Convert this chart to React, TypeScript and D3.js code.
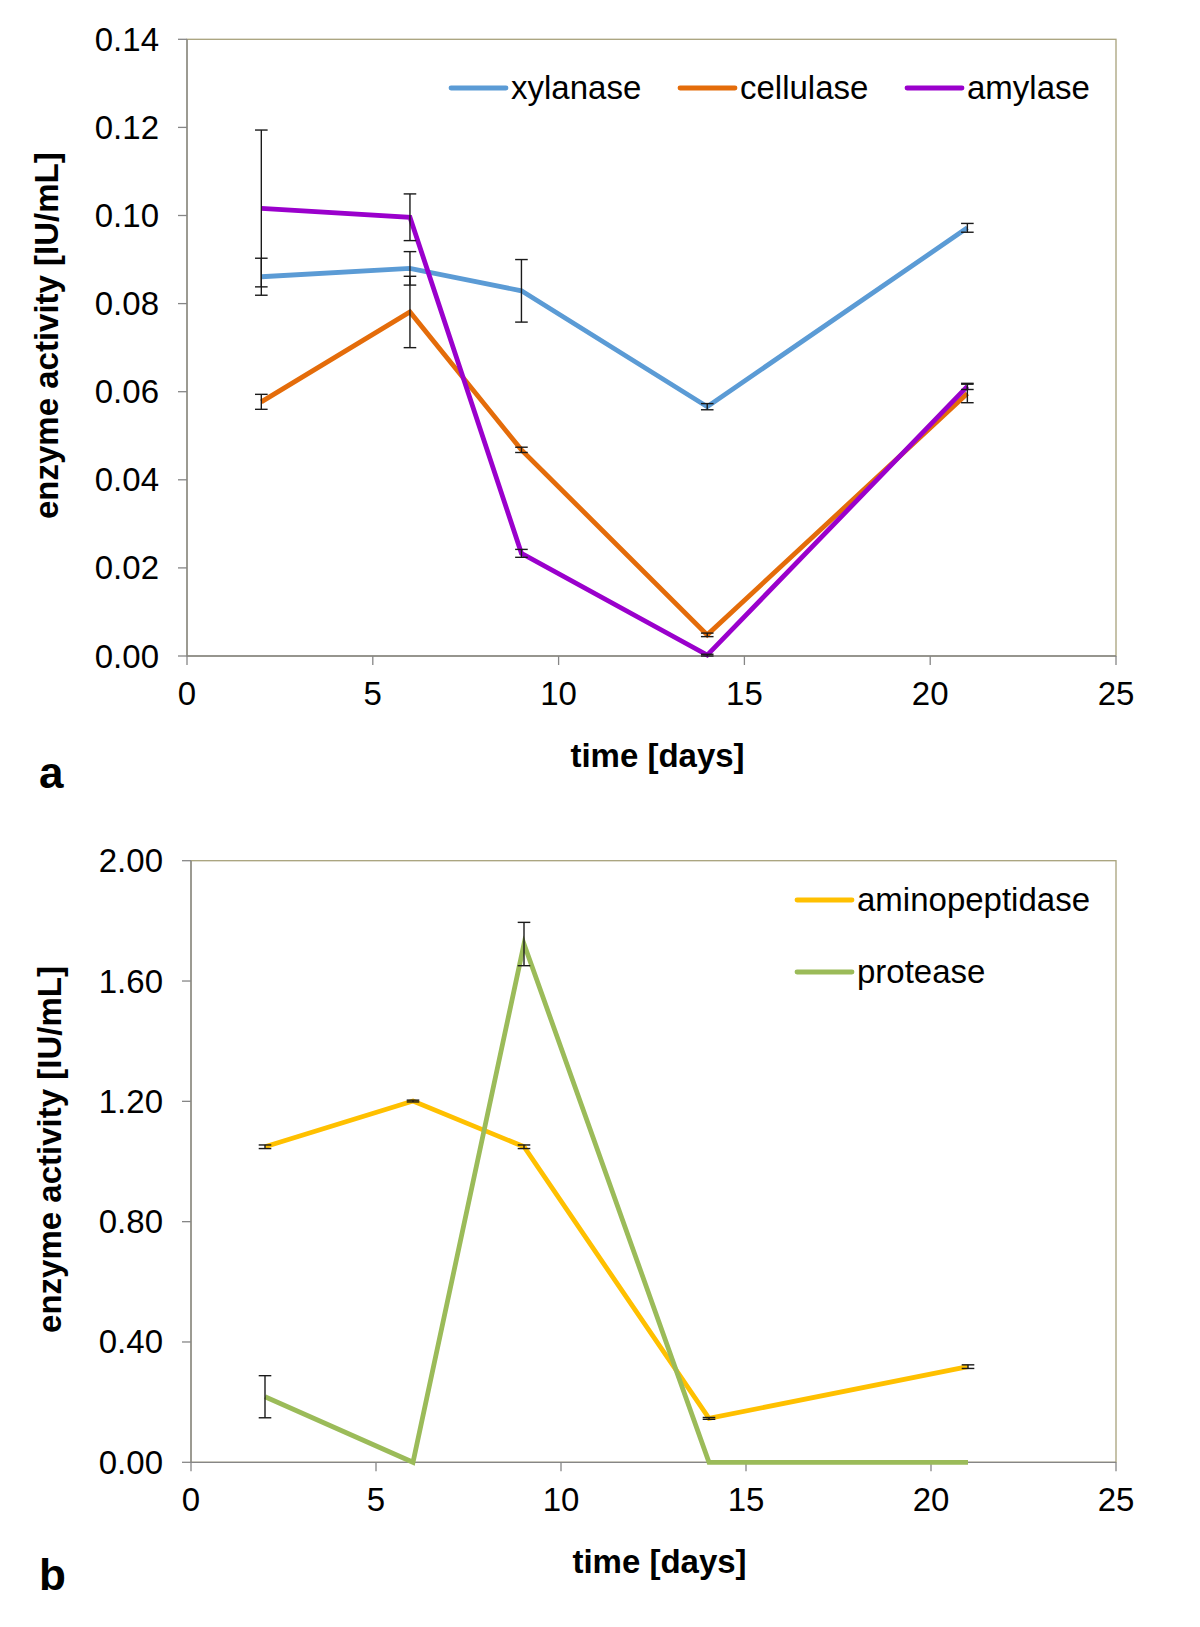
import React from "react";
import * as d3 from "d3";

const days = [2, 6, 9, 14, 21];

const xylanase = [0.0861, 0.088, 0.0829, 0.0566, 0.0972];
const xylanaseErr = [0.0042, 0.0038, 0.0071, 0.0007, 0.001];
const cellulase = [0.0577, 0.0781, 0.0468, 0.0048, 0.0596];
const cellulaseErr = [0.0017, 0.0081, 0.0006, 0.0004, 0.0021];
const amylase = [0.1016, 0.0996, 0.0233, 0.0002, 0.0612];
const amylaseErr = [0.0178, 0.0053, 0.0009, 0.0002, 0.0007];

const aminopeptidase = [1.049, 1.201, 1.049, 0.146, 0.318];
const aminopeptidaseErr = [0.006, 0.003, 0.006, 0.003, 0.006];
const protease = [0.218, 0.0, 1.723, 0.0, 0.0];
const proteaseErr = [0.07, 0.0, 0.072, 0.0, 0.0];

const xTicks = [0, 5, 10, 15, 20, 25];
const yTicksA = [0, 0.02, 0.04, 0.06, 0.08, 0.1, 0.12, 0.14];
const yTicksB = [0, 0.4, 0.8, 1.2, 1.6, 2.0];

const FONT = "'Liberation Sans', Arial, sans-serif";
const FS = 33;

type Series = { name: string; values: number[]; errs: number[]; color: string };

const seriesA: Series[] = [
  { name: "xylanase", values: xylanase, errs: xylanaseErr, color: "#5b9bd5" },
  { name: "cellulase", values: cellulase, errs: cellulaseErr, color: "#e46c0a" },
  { name: "amylase", values: amylase, errs: amylaseErr, color: "#9a00cc" },
];
const seriesB: Series[] = [
  { name: "aminopeptidase", values: aminopeptidase, errs: aminopeptidaseErr, color: "#ffc000" },
  { name: "protease", values: protease, errs: proteaseErr, color: "#9bbb59" },
];

type PanelProps = {
  left: number;
  right: number;
  top: number;
  bottom: number;
  yMax: number;
  yTicks: number[];
  series: Series[];
  legend: { x: number; y: number }[];
  yTitleX: number;
  letter: string;
  letterY: number;
};

function Panel(p: PanelProps) {
  const x = d3.scaleLinear().domain([0, 25]).range([p.left, p.right]);
  const y = d3.scaleLinear().domain([0, p.yMax]).range([p.bottom, p.top]);
  const line = d3
    .line<number>()
    .x((_, i) => x(days[i]))
    .y((v) => y(v));
  const axisColor = "#868686";
  const frameColor = "#a8a27c";
  const capW = 6.3;
  return (
    <g>
      <rect
        x={p.left}
        y={p.top}
        width={p.right - p.left}
        height={p.bottom - p.top}
        fill="none"
        stroke={frameColor}
        strokeWidth={1.3}
      />
      <line x1={p.left} x2={p.left} y1={p.top} y2={p.bottom} stroke={axisColor} strokeWidth={1.3} />
      <line x1={p.left} x2={p.right} y1={p.bottom} y2={p.bottom} stroke={axisColor} strokeWidth={1.3} />
      {p.yTicks.map((t) => (
        <g key={"y" + t}>
          <line x1={p.left - 9} x2={p.left} y1={y(t)} y2={y(t)} stroke={axisColor} strokeWidth={1.3} />
          <text
            x={p.left - 28}
            y={y(t) + 11.5}
            textAnchor="end"
            fontFamily={FONT}
            fontSize={FS}
            fill="#000"
          >
            {t.toFixed(2)}
          </text>
        </g>
      ))}
      {xTicks.map((t) => (
        <g key={"x" + t}>
          <line x1={x(t)} x2={x(t)} y1={p.bottom} y2={p.bottom + 9} stroke={axisColor} strokeWidth={1.3} />
          <text
            x={x(t)}
            y={p.bottom + 49}
            textAnchor="middle"
            fontFamily={FONT}
            fontSize={FS}
            fill="#000"
          >
            {t}
          </text>
        </g>
      ))}
      {p.series.map((s) => (
        <path
          key={s.name}
          d={line(s.values) || ""}
          fill="none"
          stroke={s.color}
          strokeWidth={4.8}
          strokeLinejoin="miter"
        />
      ))}
      {p.series.map((s) =>
        s.values.map((v, i) =>
          s.errs[i] > 0 ? (
            <g key={s.name + "e" + i} stroke="#1a1a1a" strokeWidth={1.4}>
              <line x1={x(days[i])} x2={x(days[i])} y1={y(v - s.errs[i])} y2={y(v + s.errs[i])} />
              <line
                x1={x(days[i]) - capW}
                x2={x(days[i]) + capW}
                y1={y(v + s.errs[i])}
                y2={y(v + s.errs[i])}
              />
              <line
                x1={x(days[i]) - capW}
                x2={x(days[i]) + capW}
                y1={y(v - s.errs[i])}
                y2={y(v - s.errs[i])}
              />
            </g>
          ) : null
        )
      )}
      {p.series.map((s, i) => {
        const l = p.legend[i];
        return (
          <g key={"leg" + s.name}>
            <line x1={l.x} x2={l.x + 55} y1={l.y} y2={l.y} stroke={s.color} strokeWidth={4.8} strokeLinecap="round" />
            <text x={l.x + 60} y={l.y + 10.5} fontFamily={FONT} fontSize={FS} fill="#000">
              {s.name}
            </text>
          </g>
        );
      })}
      <text
        x={(p.left + p.right) / 2 + 6}
        y={p.bottom + 111}
        textAnchor="middle"
        fontFamily={FONT}
        fontSize={FS}
        fontWeight="bold"
        fill="#000"
      >
        time [days]
      </text>
      <text
        transform={`translate(${p.yTitleX},${(p.top + p.bottom) / 2 - 12}) rotate(-90)`}
        textAnchor="middle"
        fontFamily={FONT}
        fontSize={FS}
        fontWeight="bold"
        fill="#000"
      >
        enzyme activity [IU/mL]
      </text>
      <text x={39} y={p.letterY} fontFamily={FONT} fontSize={44} fontWeight="bold" fill="#000">
        {p.letter}
      </text>
    </g>
  );
}

export default function App() {
  return (
    <svg
      width={1200}
      height={1627}
      viewBox="0 0 1200 1627"
      style={{ position: "absolute", left: 0, top: 0, display: "block", background: "#fff" }}
    >
      <rect x={0} y={0} width={1200} height={1627} fill="#fff" />
      <Panel
        left={187}
        right={1116}
        top={39.3}
        bottom={656}
        yMax={0.14}
        yTicks={yTicksA}
        series={seriesA}
        legend={[
          { x: 451, y: 88 },
          { x: 680, y: 88 },
          { x: 907, y: 88 },
        ]}
        yTitleX={58}
        letter="a"
        letterY={788}
      />
      <Panel
        left={191}
        right={1116}
        top={860.7}
        bottom={1462.3}
        yMax={2.0}
        yTicks={yTicksB}
        series={seriesB}
        legend={[
          { x: 797, y: 900 },
          { x: 797, y: 972 },
        ]}
        yTitleX={61}
        letter="b"
        letterY={1590}
      />
    </svg>
  );
}
